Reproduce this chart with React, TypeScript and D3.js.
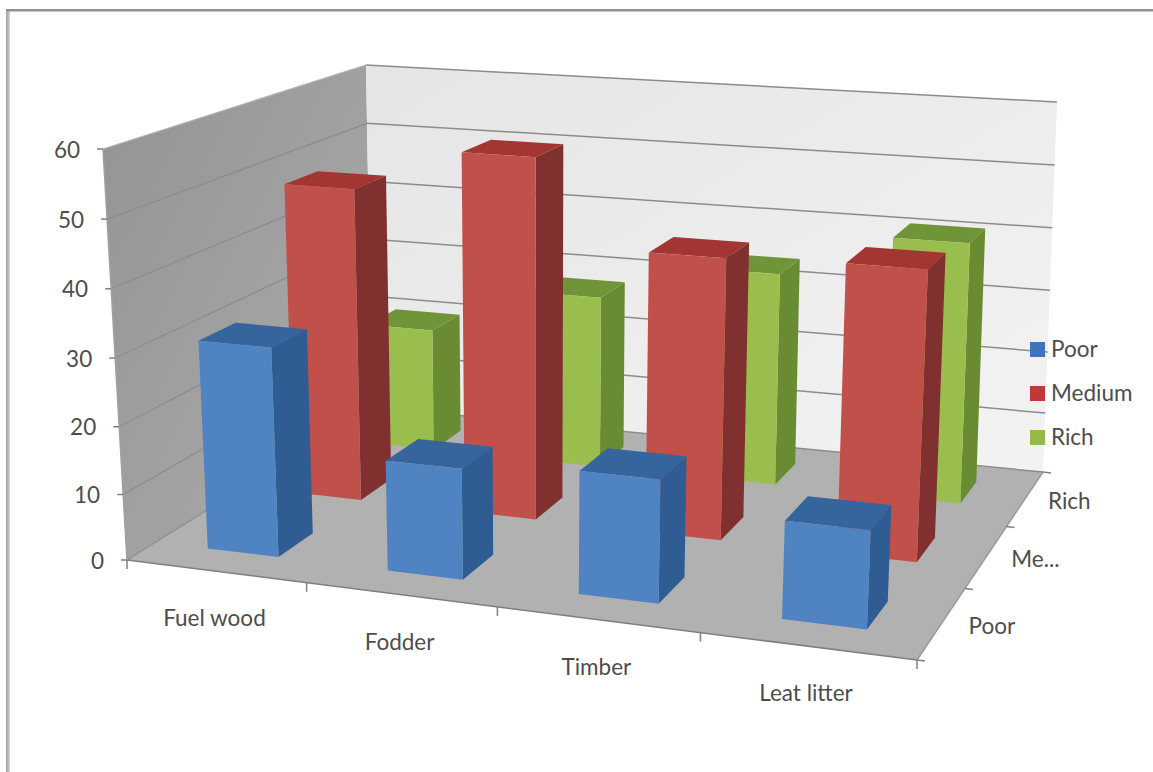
import React from "react";
import * as d3 from "d3";

const categories = ["Fuel wood", "Fodder", "Timber", "Leat litter"];
const seriesNames = ["Poor", "Medium", "Rich"];
const depthLabels = ["Poor", "Me...", "Rich"];
const poorValues = [31.2, 16.4, 17.9, 14];
const mediumValues = [48.8, 55.5, 42.5, 43.1];
const richValues = [20.3, 28, 34, 41];
const valueTicks = [0, 10, 20, 30, 40, 50, 60];

const seriesValues = [poorValues, mediumValues, richValues];

type Pt = [number, number];

// Box corners on screen: floor plane and the plane at the axis maximum.
const floorQuad: Pt[] = [[127, 560], [917, 660], [1043, 472], [372, 407]];
const ceilQuad: Pt[] = [[103, 149], [937, 206], [1057, 102], [366, 65]];

// Projective map of the unit square onto a quad (corners at 00, 10, 11, 01).
function squareToQuad(q: Pt[]) {
  const [[x0, y0], [x1, y1], [x2, y2], [x3, y3]] = q;
  const dx1 = x1 - x2, dx2 = x3 - x2, sx = x0 - x1 + x2 - x3;
  const dy1 = y1 - y2, dy2 = y3 - y2, sy = y0 - y1 + y2 - y3;
  const den = dx1 * dy2 - dx2 * dy1;
  const g = (sx * dy2 - dx2 * sy) / den;
  const h = (dx1 * sy - sx * dy1) / den;
  const a = x1 - x0 + g * x1, b = x3 - x0 + h * x3, c = x0;
  const d = y1 - y0 + g * y1, e = y3 - y0 + h * y3, f = y0;
  return (u: number, v: number): Pt => {
    const w = g * u + h * v + 1;
    return [(a * u + b * v + c) / w, (d * u + e * v + f) / w];
  };
}

const floorMap = squareToQuad(floorQuad);
const ceilMap = squareToQuad(ceilQuad);
// A slight power curve stands in for the foreshortening along the vertical axis.
const heightScale = d3.scalePow().exponent(1.025).domain([0, 60]).range([0, 1]);

function project(u: number, v: number, value: number): Pt {
  const a = floorMap(u, v), b = ceilMap(u, v), t = heightScale(value);
  return [a[0] + (b[0] - a[0]) * t, a[1] + (b[1] - a[1]) * t];
}

const catBand = d3.scaleBand<string>().domain(categories).range([0, 1]).paddingInner(0.6).paddingOuter(0.3);
const seriesBand = d3.scaleBand<string>().domain(seriesNames).range([0, 1]).paddingInner(0.6).paddingOuter(0.3);
const catStep = d3.scaleBand<string>().domain(categories).range([0, 1]);
const seriesStep = d3.scaleBand<string>().domain(seriesNames).range([0, 1]);

const polyLine = d3.line();
const poly = (pts: Pt[]) => polyLine(pts) + "Z";

const faceColors = [
  { front: "#4f83c2", side: "#2f5c92", top: "#35659c" },
  { front: "#c2504a", side: "#80302e", top: "#a33533" },
  { front: "#99be4e", side: "#698b31", top: "#709538" },
];
const swatchColors = ["#3f75bd", "#c0383a", "#94bb4a"];
const textColor = "#4d4d4d";
const fontFamily = "Lato, 'Open Sans', sans-serif";
const labelSize = 22.5;
const depthLabelShift = [50, 49, 44];

function Bar({ cat, si, value }: { cat: string; si: number; value: number }) {
  const u0 = catBand(cat)!, u1 = u0 + catBand.bandwidth();
  const v0 = seriesBand(seriesNames[si])!, v1 = v0 + seriesBand.bandwidth();
  const c = faceColors[si];
  const front = [project(u0, v0, 0), project(u1, v0, 0), project(u1, v0, value), project(u0, v0, value)];
  const side = [project(u1, v0, 0), project(u1, v1, 0), project(u1, v1, value), project(u1, v0, value)];
  const top = [project(u0, v0, value), project(u1, v0, value), project(u1, v1, value), project(u0, v1, value)];
  return (
    <g>
      <path d={poly(side)} fill={c.side} />
      <path d={poly(top)} fill={c.top} />
      <path d={poly(front)} fill={c.front} />
    </g>
  );
}

export default function App() {
  const catTicks = d3.range(categories.length + 1).map((i) => i / categories.length);
  const depthTicks = d3.range(seriesNames.length + 1).map((i) => i / seriesNames.length);
  return (
    <svg width={1153} height={772} style={{ position: "absolute", left: 0, top: 0, background: "#fff" }} fontFamily={fontFamily}>
      <defs>
        <linearGradient id="sideWall" x1="0" y1="0" x2="1" y2="1">
          <stop offset="0" stopColor="#939393" />
          <stop offset="1" stopColor="#adadad" />
        </linearGradient>
        <linearGradient id="backWall" x1="0" y1="0" x2="1" y2="1">
          <stop offset="0" stopColor="#e5e5e5" />
          <stop offset="1" stopColor="#f3f3f3" />
        </linearGradient>
        <linearGradient id="frameLeft" x1="0" y1="0" x2="1" y2="0">
          <stop offset="0" stopColor="#9c9c9c" />
          <stop offset="1" stopColor="#d8d8d8" />
        </linearGradient>
      </defs>

      {/* picture frame */}
      <rect x={6} y={9} width={4} height={763} fill="url(#frameLeft)" />
      <rect x={6} y={9} width={1147} height={2.5} fill="#8f8f8f" />

      {/* walls and floor */}
      <path d={poly([project(0, 0, 0), project(0, 1, 0), project(0, 1, 60), project(0, 0, 60)])} fill="url(#sideWall)" />
      <path d={poly([project(0, 1, 0), project(1, 1, 0), project(1, 1, 60), project(0, 1, 60)])} fill="url(#backWall)" />
      <path d={poly([project(0, 0, 0), project(1, 0, 0), project(1, 1, 0), project(0, 1, 0)])} fill="#b1b1b1" />

      {/* gridlines */}
      {valueTicks.map((t) => (
        <g key={t} fill="none">
          <path d={polyLine([project(0, 0, t), project(0, 1, t)])!} stroke={t === 60 ? "#b2b2b2" : "#8d8d8d"} strokeWidth={1.3} />
          <path d={polyLine([project(0, 1, t), project(1, 1, t)])!} stroke="#8c8c8c" strokeWidth={1.5} />
        </g>
      ))}

      {/* axis ticks and edges */}
      <g stroke="#7f7f7f" strokeWidth={1.5} fill="none">
        <path d={polyLine([project(0, 0, 0), project(1, 0, 0)])!} />
        <path d={polyLine([project(1, 0, 0), project(1, 1, 0)])!} stroke="#9a9a9a" />
        <path d={polyLine([project(0, 0, 0), project(0, 0, 60)])!} stroke="#a0a0a0" />
        {valueTicks.map((t) => {
          const p = project(0, 0, t);
          return <line key={t} x1={p[0] - 6} y1={p[1]} x2={p[0]} y2={p[1]} />;
        })}
        {catTicks.map((u) => {
          const p = project(u, 0, 0);
          return <line key={u} x1={p[0]} y1={p[1]} x2={p[0]} y2={p[1] + 9} />;
        })}
        {depthTicks.map((v) => {
          const p = project(1, v, 0);
          return <line key={v} x1={p[0]} y1={p[1]} x2={p[0] + 8} y2={p[1] + 1} />;
        })}
      </g>

      {/* bars, back row first */}
      {[2, 1, 0].map((si) =>
        categories.map((cat, ci) => <Bar key={cat + si} cat={cat} si={si} value={seriesValues[si][ci]} />)
      )}

      {/* value axis labels */}
      <g fontSize={labelSize} fill={textColor} textAnchor="end">
        {valueTicks.map((t) => {
          const p = project(0, 0, t);
          return (
            <text key={t} x={p[0] - 23} y={p[1] + 8.5}>
              {t}
            </text>
          );
        })}
      </g>

      {/* category labels */}
      <g fontSize={labelSize} fill={textColor} textAnchor="middle">
        {categories.map((c) => {
          const p = project(catStep(c)! + catStep.bandwidth() / 2, 0, 0);
          return (
            <text key={c} x={p[0] - 1} y={p[1] + 55}>
              {c}
            </text>
          );
        })}
      </g>

      {/* depth labels */}
      <g fontSize={labelSize} fill={textColor} textAnchor="middle">
        {seriesNames.map((s, i) => {
          const p = project(1, seriesStep(s)! + seriesStep.bandwidth() / 2, 0);
          return (
            <text key={s} x={p[0] + depthLabelShift[i]} y={p[1] + 11}>
              {depthLabels[i]}
            </text>
          );
        })}
      </g>

      {/* legend */}
      <g fontSize={labelSize} fill={textColor}>
        {seriesNames.map((s, i) => (
          <g key={s} transform={`translate(1030,${342 + i * 44})`}>
            <rect width={15} height={15} fill={swatchColors[i]} />
            <text x={21} y={15}>
              {s}
            </text>
          </g>
        ))}
      </g>
    </svg>
  );
}
